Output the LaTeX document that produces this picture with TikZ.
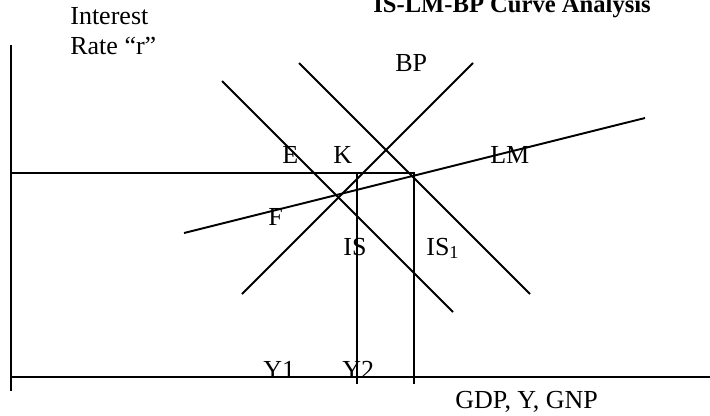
\documentclass[tikz,border=0pt]{standalone}
\usepackage{fontspec}
\setmainfont{Liberation Serif}
\usepackage{tikz}
\usetikzlibrary{positioning}

\begin{document}
\begin{tikzpicture}[
      curve/.style={line width=1.1pt},
      lbl/.style={anchor=base west, inner sep=0pt, font=\fontsize{14.8}{17}\selectfont}
    ]
    \useasboundingbox (0,0) rectangle (14.2,8.3);
    % Axes
    \coordinate (o) at (0.22,0.76);
    \draw[curve] (0.22,7.4) -- (0.22,0.48);
    \draw[curve] (o) -- (14.2,0.76);
    % Curve end points
    \coordinate (is-a) at (4.44,6.68);   \coordinate (is-b) at (9.06,2.06);
    \coordinate (isone-a) at (5.98,7.04); \coordinate (isone-b) at (10.6,2.42);
    \coordinate (bp-a) at (4.84,2.42);   \coordinate (bp-b) at (9.46,7.04);
    \coordinate (lm-a) at (3.68,3.64);   \coordinate (lm-b) at (12.9,5.94);
    \coordinate (r0) at (0.22,4.84);     \coordinate (r1) at (8.28,4.84);
    \coordinate (ytwo-a) at (7.14,4.84); \coordinate (ytwo-b) at (7.14,0.62);
    \coordinate (yone-b) at (8.28,0.62);
    % IS, IS1, BP and LM curves
    \draw[curve] (is-a) -- (is-b);
    \draw[curve] (isone-a) -- (isone-b);
    \draw[curve] (bp-a) -- (bp-b);
    \draw[curve] (lm-a) -- (lm-b);
    % Interest rate level and output levels
    \draw[curve] (r0) -- (r1) -- (yone-b);
    \draw[curve] (ytwo-a) -- (ytwo-b);
    % Labels
    \node[lbl] (ylab1) at (1.40,7.82) {Interest};
    \node[lbl] (ylab2) at (1.40,7.22) {Rate “r”};
    \node[lbl, font=\fontsize{14}{16}\selectfont\bfseries] (title) at (7.46,8.06) {IS-LM-BP Curve Analysis};
    \node[lbl] (bp) at (7.90,6.88) {BP};
    \node[lbl] (e) at (5.64,5.04) {E};
    \node[lbl] (k) at (6.66,5.04) {K};
    \node[lbl] (lm) at (9.80,5.04) {LM};
    \node[lbl] (f) at (5.36,3.80) {F};
    \node[lbl] (is) at (6.86,3.20) {IS};
    \node[lbl] (isone) at (8.52,3.20) {IS\textsubscript{1}};
    \node[lbl] (yone) at (5.26,0.74) {Y1};
    \node[lbl] (ytwo) at (6.84,0.74) {Y2};
    \node[lbl] (xlab) at (9.10,0.14) {GDP, Y, GNP};
\end{tikzpicture}
\end{document}
